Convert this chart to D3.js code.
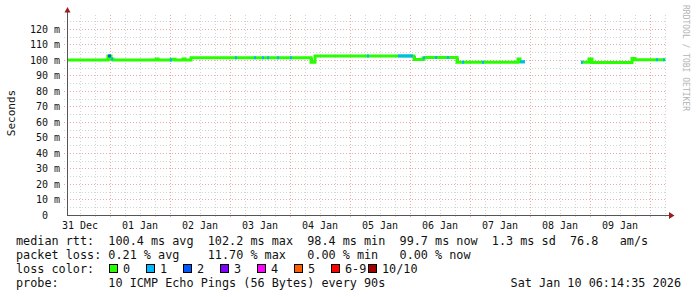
<!DOCTYPE html>
<html>
<head>
<meta charset="utf-8">
<script src="https://cdn.jsdelivr.net/npm/d3@7/dist/d3.min.js"></script>
<style>
  body { margin: 0; background: #fff; }
  svg { display: block; }
  text { font-family: "DejaVu Sans Mono", monospace; white-space: pre; }
</style>
</head>
<body>
<svg id="chart"></svg>
<script>
var parseT = d3.timeParse("%Y-%m-%dT%H:%M");

// median rtt, step segments: each value holds until the next time (ms)
var medTime = ["2025-12-31T06:48", "2025-12-31T23:12", "2026-01-01T00:24", "2026-01-01T01:12",
  "2026-01-01T18:24", "2026-01-01T19:12", "2026-01-02T00:24", "2026-01-02T02:00",
  "2026-01-02T05:12", "2026-01-02T06:00", "2026-01-02T08:24", "2026-01-04T08:24",
  "2026-01-04T10:00", "2026-01-06T01:36", "2026-01-06T05:12", "2026-01-06T06:00",
  "2026-01-06T18:48", "2026-01-07T19:12", "2026-01-07T20:00", "2026-01-07T22:00",
  "2026-01-08T20:24", "2026-01-08T23:36", "2026-01-09T00:48", "2026-01-09T16:48",
  "2026-01-09T18:00", "2026-01-10T06:14"];
var medValue = [100.0, 102.6, 100.6, 100.0,
  100.7, 100.0, 100.5, 100.0,
  100.6, 100.0, 101.5, 98.6,
  102.6, 100.3, 101.2, 101.6,
  98.6, 100.6, 98.8, null,
  98.5, 100.6, 98.4, 100.9,
  100.2, null];

// intervals with lost pings (count of 10)
var lossStart = ["2025-12-31T23:12", "2026-01-01T00:24", "2026-01-02T00:00", "2026-01-03T02:00",
  "2026-01-03T09:36", "2026-01-03T12:48", "2026-01-03T14:48", "2026-01-03T18:48",
  "2026-01-04T00:00", "2026-01-05T06:48", "2026-01-05T19:12", "2026-01-06T05:12",
  "2026-01-06T10:00", "2026-01-06T14:48", "2026-01-06T20:48", "2026-01-07T04:48",
  "2026-01-07T20:00", "2026-01-08T20:24", "2026-01-10T02:24", "2026-01-10T05:12"];
var lossEnd = ["2026-01-01T00:24", "2026-01-01T01:12", "2026-01-02T00:48", "2026-01-03T02:48",
  "2026-01-03T10:24", "2026-01-03T13:36", "2026-01-03T15:36", "2026-01-03T19:36",
  "2026-01-04T00:48", "2026-01-05T07:36", "2026-01-06T01:12", "2026-01-06T06:00",
  "2026-01-06T10:48", "2026-01-06T15:36", "2026-01-06T21:36", "2026-01-07T05:36",
  "2026-01-07T22:00", "2026-01-08T21:12", "2026-01-10T03:12", "2026-01-10T06:00"];
var lossCount = [2, 1, 1, 1, 1, 1, 1, 1, 1, 1, 1, 1, 1, 1, 1, 1, 1, 1, 1, 1];

// smoke (spread of single pings) where the median stepped
var smokeTime = ["2025-12-31T23:12", "2026-01-04T08:24", "2026-01-04T09:36", "2026-01-06T01:36",
  "2026-01-06T18:48", "2026-01-07T19:12", "2026-01-08T23:12", "2026-01-09T16:24"];
var smokeLo = [100.0, 98.0, 98.5, 100.0, 98.6, 98.6, 98.4, 98.4];
var smokeHi = [103.2, 101.5, 102.6, 102.6, 101.5, 101.0, 100.8, 101.0];

var yTicks = [0, 10, 20, 30, 40, 50, 60, 70, 80, 90, 100, 110, 120];
var lossLabels = ["0", "1", "2", "3", "4", "5", "6-9", "10/10"];
var lossColors = ["#26ff00", "#00b8ff", "#0059ff", "#7e00ff", "#ff00ff", "#ff5e00", "#ff0000", "#a10000"];

var statLines = [
  "median rtt:  100.4 ms avg  102.2 ms max  98.4 ms min  99.7 ms now  1.3 ms sd  76.8   am/s",
  "packet loss: 0.21 % avg    11.70 % max   0.00 % min   0.00 % now",
  "loss color:",
  "probe:       10 ICMP Echo Pings (56 Bytes) every 90s"
];
var stamp = "Sat Jan 10 06:14:35 2026";

var drawGraph = function() {
  var screen = { width: 697, height: 297 };
  var plot = { left: 67, right: 667, top: 15, bottom: 215 };

  var svg = d3.select("#chart")
    .attr("width", screen.width)
    .attr("height", screen.height);

  var xScale = d3.scaleTime()
    .domain([parseT("2025-12-31T06:48"), parseT("2026-01-10T06:48")])
    .range([plot.left, plot.right]);
  var yScale = d3.scaleLinear()
    .domain([0, 129])
    .range([plot.bottom, plot.top]);

  var px = function(v) { return Math.round(v) + 0.5; };
  var minorCol = "#d4d4d4", majorCol = "#eaa8a8";

  var grid = svg.append("g");
  // vertical grid: 6h minor, day major
  var hours = d3.timeHour.every(6).range(xScale.domain()[0], xScale.domain()[1]);
  hours.forEach(function(t) {
    var major = t.getHours() === 0;
    var x = px(xScale(t));
    grid.append("line")
      .attr("x1", x).attr("x2", x)
      .attr("y1", plot.top).attr("y2", plot.bottom + 3)
      .attr("stroke", major ? majorCol : minorCol)
      .attr("stroke-dasharray", "1,2");
  });
  // horizontal grid: 5 ms minor, 10 ms major
  d3.range(5, 130, 5).forEach(function(v) {
    var major = v % 10 === 0;
    var y = px(yScale(v));
    grid.append("line")
      .attr("x1", plot.left - 3).attr("x2", plot.right)
      .attr("y1", y).attr("y2", y)
      .attr("stroke", major ? majorCol : minorCol)
      .attr("stroke-dasharray", "1,2");
  });

  // smoke
  svg.append("g").selectAll("rect")
    .data(smokeTime)
    .enter()
    .append("rect")
    .attr("x", function(d) { return xScale(parseT(d)); })
    .attr("width", 1.5)
    .attr("y", function(d, i) { return yScale(smokeHi[i]); })
    .attr("height", function(d, i) { return yScale(smokeLo[i]) - yScale(smokeHi[i]); })
    .attr("fill", "#2a2a3a");

  // median line (green = no loss)
  var medData = medTime.map(function(t, i) { return { t: parseT(t), v: medValue[i] }; });
  var lineData = [];
  medData.forEach(function(d, i) {
    if (d.v === null) { lineData.push({ t: d.t, v: null }); return; }
    lineData.push(d);
    var next = medData[i + 1];
    if (next) lineData.push({ t: next.t, v: d.v, end: true });
  });
  var line = d3.line()
    .defined(function(d) { return d.v !== null; })
    .x(function(d) { return xScale(d.t); })
    .y(function(d) { return yScale(d.v); });
  svg.append("path")
    .datum(lineData)
    .attr("d", line)
    .attr("fill", "none")
    .attr("stroke", lossColors[0])
    .attr("stroke-width", 3);

  var valueAt = function(t) {
    var i = d3.bisectRight(medData.map(function(d) { return d.t; }), t) - 1;
    return medData[Math.max(0, i)].v;
  };
  var lossIdx = function(c) { return c >= 10 ? 7 : (c >= 6 ? 6 : c); };

  svg.append("g").selectAll("line")
    .data(lossStart)
    .enter()
    .append("line")
    .attr("x1", function(d) { return xScale(parseT(d)); })
    .attr("x2", function(d, i) { return xScale(parseT(lossEnd[i])); })
    .attr("y1", function(d) { return yScale(valueAt(parseT(d))); })
    .attr("y2", function(d) { return yScale(valueAt(parseT(d))); })
    .attr("stroke", function(d, i) { return lossColors[lossIdx(lossCount[i])]; })
    .attr("stroke-width", 3);

  // axes
  var axisCol = "#555";
  svg.append("line")
    .attr("x1", plot.left + 0.5).attr("x2", plot.left + 0.5)
    .attr("y1", plot.bottom).attr("y2", 10)
    .attr("stroke", axisCol);
  svg.append("line")
    .attr("x1", plot.left).attr("x2", 670)
    .attr("y1", plot.bottom + 0.5).attr("y2", plot.bottom + 0.5)
    .attr("stroke", axisCol);
  svg.append("path")
    .attr("d", "M64.5,12.5L67.5,7L70.5,12.5Z")
    .attr("fill", "#9b1c1c");
  svg.append("path")
    .attr("d", "M669,212L674.5,215.5L669,219Z")
    .attr("fill", "#9b1c1c");

  // y labels
  svg.append("g").selectAll("text")
    .data(yTicks)
    .enter()
    .append("text")
    .attr("x", 60)
    .attr("y", function(d) { return yScale(d); })
    .attr("dy", "0.36em")
    .attr("text-anchor", "end")
    .attr("font-size", "10px")
    .attr("fill", "#111")
    .text(function(d) { return d === 0 ? "0  " : d + " m"; });

  // x labels at noon
  var days = d3.timeDay.range(parseT("2025-12-31T00:00"), parseT("2026-01-10T00:00"));
  svg.append("g").selectAll("text")
    .data(days)
    .enter()
    .append("text")
    .attr("x", function(d) { return xScale(d3.timeHour.offset(d, 12)); })
    .attr("y", 229)
    .attr("text-anchor", "middle")
    .attr("font-size", "10px")
    .attr("fill", "#111")
    .text(d3.timeFormat("%d %b"));

  svg.append("text")
    .attr("transform", "translate(15,113) rotate(-90)")
    .attr("text-anchor", "middle")
    .attr("font-size", "11px")
    .attr("fill", "#111")
    .text("Seconds");

  svg.append("text")
    .attr("transform", "translate(683,5) rotate(90)")
    .attr("font-size", "8px")
    .attr("fill", "#b4b4b4")
    .text("RRDTOOL / TOBI OETIKER");

  // legend / stats
  var legend = svg.append("g").attr("font-size", "11.8px").attr("fill", "#111");
  legend.selectAll("text.stat")
    .data(statLines)
    .enter()
    .append("text")
    .classed("stat", true)
    .attr("x", 16)
    .attr("y", function(d, i) { return 245 + i * 14; })
    .text(function(d) { return d; });

  var lossItems = legend.selectAll("g.loss")
    .data(lossLabels)
    .enter()
    .append("g")
    .classed("loss", true)
    .attr("transform", function(d, i) { return "translate(" + (109 + i * 37) + ",264)"; });
  lossItems.append("rect")
    .attr("x", 0.5).attr("y", 0.5)
    .attr("width", 8).attr("height", 8)
    .attr("fill", function(d, i) { return lossColors[i]; })
    .attr("stroke", "#000");
  lossItems.append("text")
    .attr("x", 14)
    .attr("y", 9)
    .text(function(d) { return d; });

  legend.append("text")
    .attr("x", 681)
    .attr("y", 287)
    .attr("text-anchor", "end")
    .text(stamp);
};

drawGraph();
</script>
</body>
</html>
